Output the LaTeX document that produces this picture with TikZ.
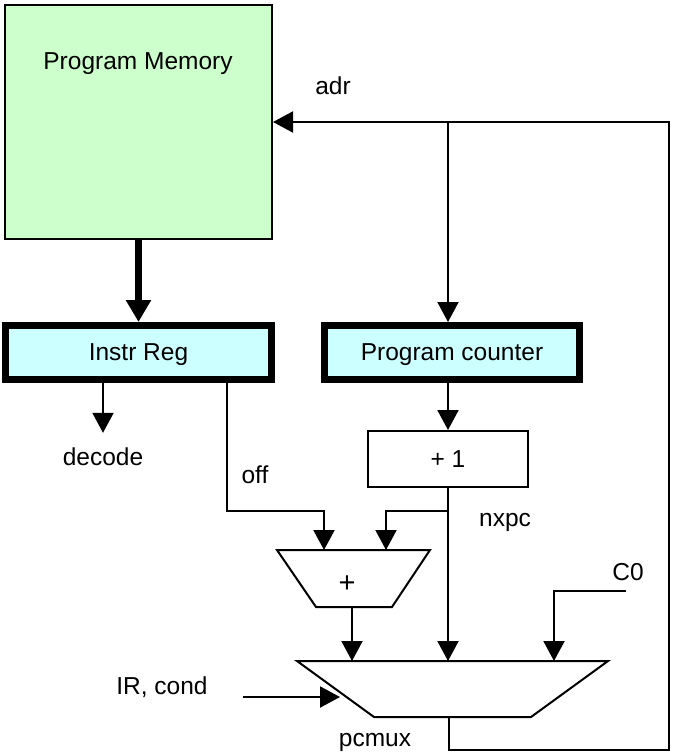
\documentclass[tikz,border=0pt]{standalone}
\usepackage{fontspec}
\setmainfont{Liberation Sans}
\usetikzlibrary{arrows.meta,calc}
\definecolor{memgreen}{HTML}{CCFFCC}
\definecolor{regcyan}{HTML}{CCFFFF}

\begin{document}
\begin{tikzpicture}[x=1pt,y=-1pt,font=\fontsize{24.5}{28}\selectfont,
  wire/.style={line width=2pt},
  arr/.style={wire,-{Triangle[length=20pt,width=21pt]}},
  lbl/.style={inner sep=0pt},
  regbox/.style={draw,line width=7pt,fill=regcyan,minimum height=54pt,inner sep=0pt,text depth=0pt}]
\useasboundingbox (0,0) rectangle (675,754);

% memory and registers
\node[draw,line width=2pt,fill=memgreen,minimum width=267pt,minimum height=234pt] (pm) at (138.5,122) {};
\node[lbl] (pmtext) at (138,64) {Program Memory};
\node[regbox,minimum width=266pt] (ir) at (138.5,352.5) {Instr Reg};
\node[regbox,minimum width=255pt] (pc) at (452,352.5) {Program counter};
\node[draw,line width=2pt,minimum width=160pt,minimum height=56pt,inner sep=0pt] (inc) at (448,459) {+ 1};

% adder
\coordinate (atl) at (277,550);
\coordinate (atr) at (430,550);
\coordinate (abr) at (392,607);
\coordinate (abl) at (316,607);
\draw[wire] (atl) -- (atr) -- (abr) -- (abl) -- cycle;
\node[lbl,font=\fontsize{29}{32}\selectfont] (plus) at (347,584) {+};

% pcmux
\coordinate (mtl) at (297,661);
\coordinate (mtr) at (608,661);
\coordinate (mbr) at (531,717);
\coordinate (mbl) at (374,717);
\draw[wire] (mtl) -- (mtr) -- (mbr) -- (mbl) -- cycle;

% labels
\node[lbl] (adr) at (333,86) {adr};
\node[lbl] (decode) at (103,457) {decode};
\node[lbl] (off) at (255,475) {off};
\node[lbl] (nxpc) at (505,522) {nxpc};
\node[lbl] (c0) at (628,572) {C0};
\node[lbl] (irc) at (162,687) {IR, cond};
\node[lbl] (pcmux) at (375,742) {pcmux};

% end points
\coordinate (offbend) at (227,511);
\coordinate (addA) at (324,550);
\coordinate (addB) at (386,550);
\coordinate (addout) at (352,607);
\coordinate (muxA) at (352,661);
\coordinate (muxB) at (448,661);
\coordinate (muxC) at (554,661);
\coordinate (muxL) at (340,697);
\coordinate (muxout) at (449,717);
\coordinate (loopcorner) at (669,750);
\coordinate (c0in) at (626,591);
\coordinate (ircin) at (243,697);

% wires
\draw[line width=7pt,-{Triangle[length=22pt,width=24pt]}] (pm.south) -- (ir.north);
\draw[arr] (decode.north |- ir.south) -- ([yshift=15pt]decode.north);
\draw[arr] (offbend |- ir.south) -- (offbend) -| (addA);
\draw[arr] (inc.north |- pm.east) -- (inc.north |- pc.north);
\draw[arr] (inc.north |- pc.south) -- (inc.north);
\draw[arr] (inc.south) -- (muxB);
\draw[arr] (inc.south |- offbend) -| (addB);
\draw[arr] (addout) -- (muxA);
\draw[arr] (c0in) -| (muxC);
\draw[arr] (ircin) -- (muxL);
\draw[arr] (muxout) |- (loopcorner) |- (pm.east);
\end{tikzpicture}
\end{document}
